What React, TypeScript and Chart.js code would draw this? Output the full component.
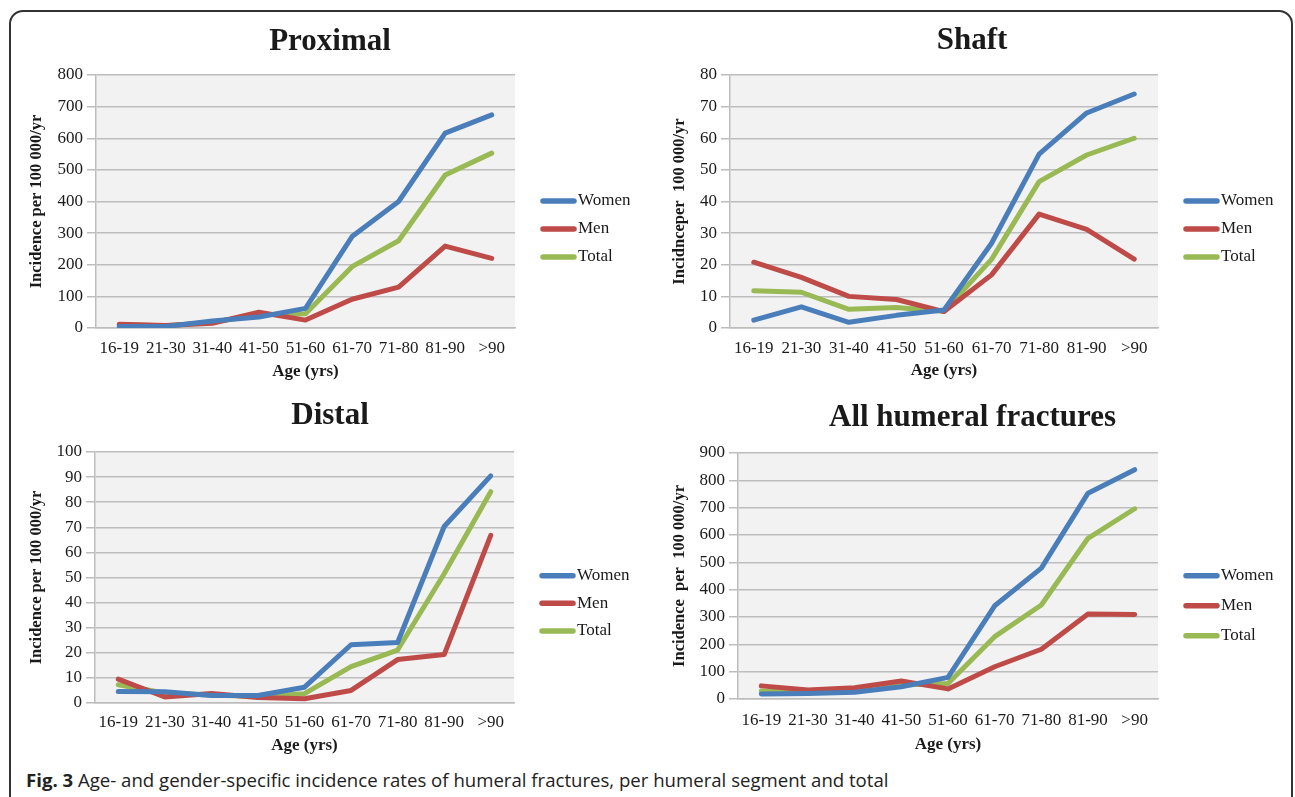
import React, { useEffect, useRef } from 'react';
import { Chart, registerables } from 'chart.js';

Chart.register(...registerables);

// ---------- data ----------
const categories = ['16-19', '21-30', '31-40', '41-50', '51-60', '61-70', '71-80', '81-90', '>90'];
const seriesNames = ['Women', 'Men', 'Total'];

const proximalWomen = [5, 5, 22, 35, 62, 289, 400, 616, 674];
const proximalMen = [12, 8, 15, 50, 25, 91, 129, 259, 220];
const proximalTotal = [10, 7, 18, 42, 45, 194, 276, 484, 553];

const shaftWomen = [2.5, 6.7, 1.8, 4, 5.7, 26.8, 55, 68, 74];
const shaftMen = [20.8, 16, 10, 9, 5.2, 16.8, 36, 31.2, 21.8];
const shaftTotal = [11.8, 11.3, 5.9, 6.5, 5.3, 21.7, 46.3, 54.7, 60];

const distalWomen = [4.6, 4.5, 3, 3, 6.3, 23.2, 24.1, 70.3, 90.5];
const distalMen = [9.5, 2.4, 3.8, 2.2, 1.7, 5, 17.3, 19.3, 66.8];
const distalTotal = [7.3, 4, 3.2, 2.6, 3.7, 14.5, 21.1, 51.5, 84.2];

const allWomen = [18, 20, 25, 45, 79, 341, 479, 753, 839];
const allMen = [48, 33, 41, 66, 37, 118, 182, 311, 309];
const allTotal = [29, 24, 33, 51, 57, 228, 344, 588, 696];

const panelTitles = ['Proximal', 'Shaft', 'Distal', 'All humeral fractures'];
const yAxisTitles = [
  'Incidence per 100 000/yr',
  'Incidnceper  100 000/yr',
  'Incidence per 100 000/yr',
  'Incidence  per  100 000/yr',
];
const xAxisTitle = 'Age (yrs)';
const yMaxValues = [800, 80, 100, 900];
const yStepValues = [100, 10, 10, 100];

const captionBold = 'Fig. 3';
const captionText = ' Age- and gender-specific incidence rates of humeral fractures, per humeral segment and total';

// ---------- styling ----------
const SERIF = "'Liberation Serif', 'Times New Roman', serif";
const COLORS = ['#4a7ebb', '#be4b48', '#98b954'];
const GRID = '#bdbdbd';
const TEXT = '#1a1a1a';

type Layout = {
  left: number; top: number; width: number; height: number;
  padTop: number; padRight: number; yWidth: number; yTitlePad: number;
  titleX: number; titleY: number;
  xHeight: number; xTickPad: number; xTitlePadBottom: number;
  legendRows: number[];
};

const layouts: Layout[] = [
  { left: 10, top: 12, width: 640, height: 378, padTop: 63, padRight: 135, yWidth: 86, yTitlePad: 16.4,
    titleX: 320, titleY: 30, xHeight: 62, xTickPad: 10, xTitlePadBottom: 7.9,
    legendRows: [189, 217, 245] },
  { left: 650, top: 12, width: 640, height: 378, padTop: 63, padRight: 132, yWidth: 80, yTitlePad: 19.4,
    titleX: 322, titleY: 29, xHeight: 62, xTickPad: 10, xTitlePadBottom: 8.7,
    legendRows: [189, 217, 245] },
  { left: 10, top: 392, width: 640, height: 370, padTop: 60, padRight: 136, yWidth: 85, yTitlePad: 16.4,
    titleX: 320, titleY: 24, xHeight: 59, xTickPad: 9, xTitlePadBottom: 5.7,
    legendRows: [183.7, 211.3, 239] },
  { left: 650, top: 392, width: 640, height: 370, padTop: 61, padRight: 132, yWidth: 88, yTitlePad: 19.4,
    titleX: 322.5, titleY: 26, xHeight: 63, xTickPad: 11, xTitlePadBottom: 7.4,
    legendRows: [183.7, 213.7, 243.7] },
];

const panelSeries: number[][][] = [
  [proximalWomen, proximalMen, proximalTotal],
  [shaftWomen, shaftMen, shaftTotal],
  [distalWomen, distalMen, distalTotal],
  [allWomen, allMen, allTotal],
];

const plotBg = {
  id: 'plotBg',
  beforeDraw(chart: any) {
    const { ctx, chartArea: a } = chart;
    ctx.save();
    ctx.fillStyle = '#f2f2f2';
    ctx.fillRect(a.left, a.top, a.right - a.left, a.bottom - a.top);
    ctx.restore();
  },
};

const panelTitle = {
  id: 'panelTitle',
  afterDraw(chart: any, _args: any, opts: any) {
    const { ctx } = chart;
    ctx.save();
    ctx.fillStyle = TEXT;
    ctx.font = `bold 31px ${SERIF}`;
    ctx.textAlign = 'center';
    ctx.textBaseline = 'middle';
    ctx.fillText(opts.text, opts.x, opts.y);
    ctx.restore();
  },
};

const sideLegend = {
  id: 'sideLegend',
  afterDraw(chart: any, _args: any, opts: any) {
    const { ctx, chartArea } = chart;
    ctx.save();
    chart.data.datasets.forEach((ds: any, i: number) => {
      const y = opts.rows[i];
      ctx.strokeStyle = ds.borderColor;
      ctx.lineWidth = 5.5;
      ctx.lineCap = 'round';
      ctx.beginPath();
      ctx.moveTo(chartArea.right + 28, y);
      ctx.lineTo(chartArea.right + 59, y);
      ctx.stroke();
      ctx.fillStyle = TEXT;
      ctx.font = `17px ${SERIF}`;
      ctx.textBaseline = 'middle';
      ctx.textAlign = 'left';
      ctx.fillText(ds.label, chartArea.right + 63, y);
    });
    ctx.restore();
  },
};

function Panel({ index }: { index: number }) {
  const ref = useRef<HTMLCanvasElement | null>(null);
  const L = layouts[index];

  useEffect(() => {
    if (!ref.current) return;
    const series = panelSeries[index];
    const chart = new Chart(ref.current, {
      type: 'line',
      data: {
        labels: categories,
        datasets: series.map((vals, i) => ({
          label: seriesNames[i],
          data: vals,
          borderColor: COLORS[i],
          backgroundColor: COLORS[i],
          borderWidth: 5,
          pointRadius: 0,
          pointHoverRadius: 0,
          tension: 0,
          borderJoinStyle: 'round' as const,
          borderCapStyle: 'round' as const,
        })),
      },
      options: {
        animation: false,
        responsive: false,
        maintainAspectRatio: false,
        layout: { padding: { left: 0, right: L.padRight, top: L.padTop, bottom: 0 } },
        plugins: {
          legend: { display: false },
          title: { display: false },
          tooltip: { enabled: false },
          panelTitle: { text: panelTitles[index], x: L.titleX, y: L.titleY },
          sideLegend: { rows: L.legendRows },
        } as any,
        scales: {
          x: {
            type: 'category',
            offset: true,
            grid: { display: false, drawTicks: false },
            border: { display: true, color: GRID, width: 1.5 },
            ticks: {
              color: TEXT,
              font: { family: SERIF, size: 17 },
              padding: L.xTickPad,
              maxRotation: 0,
              autoSkip: false,
            },
            title: {
              display: true,
              text: xAxisTitle,
              color: TEXT,
              font: { family: SERIF, size: 17, weight: 'bold' },
              padding: { top: 0, bottom: L.xTitlePadBottom },
            },
            afterFit: (s: any) => { s.height = L.xHeight; },
          },
          y: {
            min: 0,
            max: yMaxValues[index],
            ticks: {
              stepSize: yStepValues[index],
              color: TEXT,
              font: { family: SERIF, size: 17 },
              padding: 4,
            },
            grid: { color: GRID, lineWidth: 1.5, tickLength: 9, drawTicks: true },
            border: { display: true, color: GRID, width: 1.5 },
            title: {
              display: true,
              text: yAxisTitles[index],
              color: TEXT,
              font: { family: SERIF, size: 16.5, weight: 'bold' },
              padding: { top: L.yTitlePad, bottom: 0 },
            },
            afterFit: (s: any) => { s.width = L.yWidth; },
          },
        },
      },
      plugins: [plotBg, panelTitle, sideLegend],
    });
    return () => chart.destroy();
  }, [index]);

  return (
    <canvas
      ref={ref}
      width={L.width}
      height={L.height}
      style={{ position: 'absolute', left: L.left, top: L.top, width: L.width, height: L.height }}
    />
  );
}

export default function App() {
  return (
    <div style={{ position: 'absolute', left: 0, top: 0, width: 1295, height: 797, overflow: 'hidden', background: '#fff' }}>
      <div
        style={{
          position: 'absolute', left: 9, top: 10, width: 1284, height: 820,
          border: '2px solid #333', borderRadius: 14, boxSizing: 'border-box',
        }}
      />
      {[0, 1, 2, 3].map((i) => <Panel key={i} index={i} />)}
      <div
        style={{
          position: 'absolute', left: 26, top: 768, lineHeight: '24px', fontSize: 18.6,
          fontFamily: "'Open Sans', 'Noto Sans', sans-serif", color: '#222', whiteSpace: 'nowrap',
        }}
      >
        <b>{captionBold}</b>{captionText}
      </div>
    </div>
  );
}
